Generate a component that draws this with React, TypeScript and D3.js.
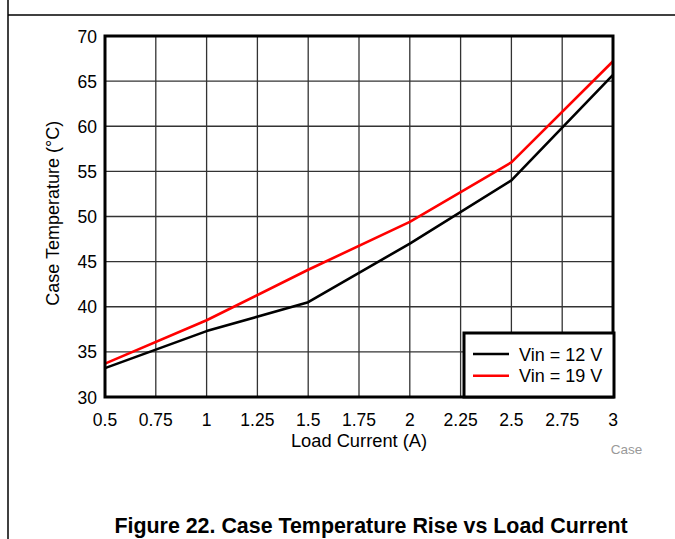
import React from "react";
import * as d3 from "d3";

const loadCurrent = [0.5, 1.0, 1.5, 2.0, 2.5, 3.0];
const vin12 = [33.2, 37.3, 40.5, 47.0, 54.0, 65.7];
const vin19 = [33.7, 38.5, 44.1, 49.4, 56.0, 67.2];
const xTicks = [0.5, 0.75, 1, 1.25, 1.5, 1.75, 2, 2.25, 2.5, 2.75, 3];
const xTickLabels = ["0.5", "0.75", "1", "1.25", "1.5", "1.75", "2", "2.25", "2.5", "2.75", "3"];
const yTicks = [30, 35, 40, 45, 50, 55, 60, 65, 70];
const seriesNames = ["Vin = 12 V", "Vin = 19 V"];
const seriesColors = ["#000000", "#ff0000"];

const W = 675;
const H = 539;
const L = 105, R = 613, T = 36, B = 397;
const FONT = "Arial, 'Liberation Sans', Helvetica, sans-serif";

export default function App() {
  const x = d3.scaleLinear().domain([0.5, 3]).range([L, R]);
  const y = d3.scaleLinear().domain([30, 70]).range([B, T]);
  const line = d3
    .line<number>()
    .x((_, i) => x(loadCurrent[i]))
    .y((d) => y(d));
  const series = [vin12, vin19];

  return (
    <svg
      width={W}
      height={H}
      style={{ position: "absolute", left: 0, top: 0, background: "#fff" }}
      fontFamily={FONT}
    >
      <rect x={0} y={0} width={W} height={H} fill="#fff" />
      {/* page frame */}
      <line x1={8} x2={8} y1={0} y2={H} stroke="#000" strokeWidth={1.5} />
      <line x1={8} x2={W} y1={15} y2={15} stroke="#000" strokeWidth={1.5} />

      {/* grid */}
      {xTicks.map((t) => (
        <line key={"gx" + t} x1={x(t)} x2={x(t)} y1={T} y2={B} stroke="#333" strokeWidth={1.3} />
      ))}
      {yTicks.map((t) => (
        <line key={"gy" + t} x1={L} x2={R} y1={y(t)} y2={y(t)} stroke="#333" strokeWidth={1.3} />
      ))}

      {/* series */}
      {series.map((s, i) => (
        <path
          key={"s" + i}
          d={line(s) || ""}
          fill="none"
          stroke={seriesColors[i]}
          strokeWidth={2.6}
          strokeLinejoin="round"
        />
      ))}

      {/* plot border */}
      <rect x={L} y={T} width={R - L} height={B - T} fill="none" stroke="#000" strokeWidth={3} />

      {/* y tick labels */}
      {yTicks.map((t) => (
        <text key={"yt" + t} x={97} y={y(t) + 6.5} textAnchor="end" fontSize={17.5} fill="#000">
          {t}
        </text>
      ))}
      {/* x tick labels */}
      {xTicks.map((t, i) => (
        <text key={"xt" + t} x={x(t)} y={426} textAnchor="middle" fontSize={17.5} fill="#000">
          {xTickLabels[i]}
        </text>
      ))}

      {/* axis titles */}
      <text x={359} y={446.5} textAnchor="middle" fontSize={18.3} fill="#000">
        Load Current (A)
      </text>
      <text
        transform={`translate(58.5,213.3) rotate(-90)`}
        textAnchor="middle"
        fontSize={18}
        fill="#000"
      >
        Case Temperature (°C)
      </text>

      {/* legend */}
      <rect x={464} y={333} width={150} height={64} fill="#fff" stroke="#000" strokeWidth={3} />
      {seriesNames.map((n, i) => (
        <g key={"lg" + i}>
          <line
            x1={473}
            x2={509}
            y1={354 + i * 21.7}
            y2={354 + i * 21.7}
            stroke={seriesColors[i]}
            strokeWidth={2.6}
          />
          <text x={519} y={361 + i * 20.7} fontSize={18} fill="#000">
            {n}
          </text>
        </g>
      ))}

      <text x={610.7} y={454} fontSize={13.5} fill="#999">
        Case
      </text>

      <text x={371} y={533} textAnchor="middle" fontSize={21.4} fontWeight="bold" fill="#000">
        Figure 22. Case Temperature Rise vs Load Current
      </text>
    </svg>
  );
}
